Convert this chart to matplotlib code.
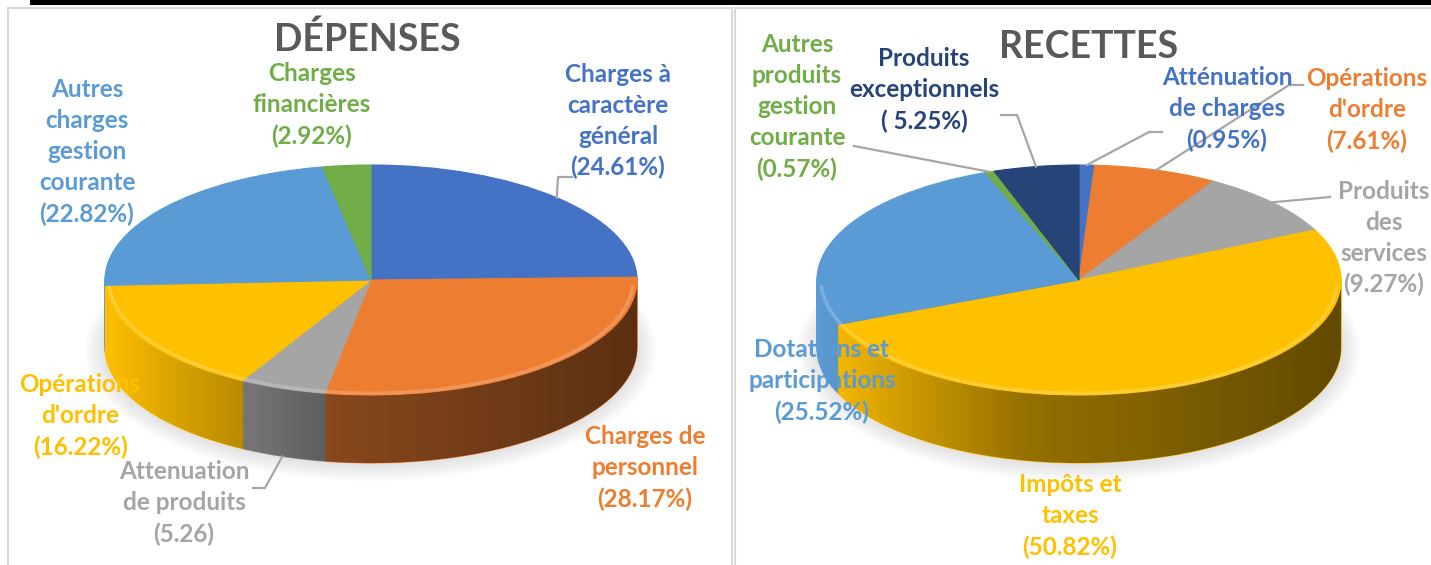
import numpy as np
import matplotlib.pyplot as plt
from matplotlib.patches import Rectangle, Polygon, Ellipse

plt.rcParams['font.family'] = ['Lato', 'DejaVu Sans']

W, H = 1431, 565

# ---- data ----
dep_labels = ["Charges à\ncaractère\ngénéral", "Charges de\npersonnel", "Attenuation\nde produits",
              "Opérations\nd'ordre", "Autres\ncharges\ngestion\ncourante", "Charges\nfinancières"]
dep_values = [24.61, 28.17, 5.26, 16.22, 22.82, 2.92]
dep_pct = ["(24.61%)", "(28.17%)", "(5.26)", "(16.22%)", "(22.82%)", "(2.92%)"]
dep_colors = ["#4472C4", "#ED7D31", "#A5A5A5", "#FFC000", "#5B9BD5", "#70AD47"]

rec_labels = ["Atténuation\nde charges", "Opérations\nd'ordre", "Produits\ndes\nservices", "Impôts et\ntaxes",
              "Dotations et\nparticipations", "Autres\nproduits\ngestion\ncourante", "Produits\nexceptionnels"]
rec_values = [0.95, 7.61, 9.27, 50.82, 25.52, 0.57, 5.25]
rec_pct = ["(0.95%)", "(7.61%)", "(9.27%)", "(50.82%)", "(25.52%)", "(0.57%)", "( 5.25%)"]
rec_colors = ["#4472C4", "#ED7D31", "#A5A5A5", "#FFC000", "#5B9BD5", "#70AD47", "#264478"]

# label layout (pixel centres) and leader lines (elbow points, pixels)
dep_label_pos = [(618, 121), (645, 468), (184, 503), (80, 416), (87, 152), (312, 105)]
rec_label_pos = [(1227, 109), (1367, 110), (1384, 238), (1070, 516), (822, 381), (797, 107), (924, 90)]
dep_leaders = {0: ([(558, 177), (572, 177)], False), 2: ([(265, 488), (253, 488)], True)}
rec_leaders = {0: ([(1149, 132), (1162, 132)], False), 1: ([(1289, 85), (1303, 85)], False),
               2: ([(1330, 197)], False), 5: ([(854, 146)], False), 6: ([(1017, 115), (1001, 115)], False)}

fig = plt.figure(figsize=(W / 100, H / 100), dpi=100)

# frame decorations
fig.patches.append(Rectangle((30 / W, 1 - 5 / H), 1 - 30 / W, 5 / H, transform=fig.transFigure,
                             facecolor="black", edgecolor="none"))
for x0, x1 in [(8, 732), (735, 1440)]:
    fig.patches.append(Rectangle((x0 / W, -0.05), (x1 - x0) / W, 1.05 - 8 / H, transform=fig.transFigure,
                                 fill=False, edgecolor="#D9D9D9", linewidth=1.5))


def draw_pie(x0, x1, cx, rx, values, colors, labels, pcts, label_pos, leaders, title, title_pos):
    cy, ry, depth = 280, 115, 68 / 115
    ax = fig.add_axes([x0 / W, 0, (x1 - x0) / W, (H - 8) / H])
    to_d = lambda px, py: ((px - cx) / rx, (cy - py) / ry)

    # soft shadow
    for i in range(6):
        ax.add_patch(Ellipse((0, -depth - 0.02), 2.02 + i * 0.025, 2.02 + i * 0.05,
                             facecolor="#808080", alpha=0.035, edgecolor="none", zorder=0))

    # side of the cake: stacked pies
    for k in np.linspace(depth, 0, 40, endpoint=False):
        wedges, _ = ax.pie(values, colors=colors, startangle=90, counterclock=False,
                           center=(0, -k), radius=1, wedgeprops=dict(linewidth=0.8))
        for w in wedges:
            w.set_edgecolor(w.get_facecolor())
            w.set_zorder(1)

    # shading of the side
    t = np.linspace(np.pi, 2 * np.pi, 200)
    band = np.vstack([np.column_stack([np.cos(t), np.sin(t)]),
                      np.column_stack([np.cos(t[::-1]), np.sin(t[::-1]) - depth])])
    clip = Polygon(band, closed=True, facecolor="none", edgecolor="none")
    ax.add_patch(clip)
    xs = np.linspace(-1, 1, 300)
    img = np.zeros((1, 300, 4))
    img[..., 3] = np.interp(xs, [-1, -0.75, -0.2, 1], [0.0, 0.15, 0.42, 0.62])
    im = ax.imshow(img, extent=(-1, 1, -1 - depth, 0), aspect="auto", zorder=2)
    im.set_clip_path(clip)

    # top face
    wedges, _ = ax.pie(values, colors=colors, startangle=90, counterclock=False,
                       radius=1, wedgeprops=dict(linewidth=0.8))
    for w in wedges:
        w.set_edgecolor(w.get_facecolor())
        w.set_zorder(3)
    rim = np.linspace(np.pi * 1.02, np.pi * 1.98, 100)
    ax.plot(0.985 * np.cos(rim), 0.985 * np.sin(rim), color="white", alpha=0.2, lw=2.5, zorder=4)

    # labels
    for lab, pct, col, (px, py) in zip(labels, pcts, colors, label_pos):
        x, y = to_d(px, py)
        ax.text(x, y, lab + "\n" + pct, ha="center", va="center", color=col, fontsize=17.5,
                fontweight="bold", linespacing=1.42, zorder=6)

    # leader lines
    total = sum(values)
    cum = np.cumsum([0] + list(values))
    for idx, (pts, on_side) in leaders.items():
        mid = np.deg2rad(90 - (cum[idx] + values[idx] / 2) / total * 360)
        sx, sy = np.cos(mid), np.sin(mid) - (depth if on_side else 0)
        xs_l = [sx] + [to_d(*p)[0] for p in pts]
        ys_l = [sy] + [to_d(*p)[1] for p in pts]
        ax.plot(xs_l, ys_l, color="#A6A6A6", lw=1.6, zorder=5, clip_on=False)

    tx, ty = to_d(*title_pos)
    ax.text(tx, ty, title, ha="center", va="center", color="#595959", fontsize=27, fontweight="bold")

    ax.set_aspect("auto")
    ax.set_xlim((x0 - cx) / rx, (x1 - cx) / rx)
    ax.set_ylim((cy - H) / ry, (cy - 8) / ry)
    ax.axis("off")


draw_pie(8, 732, 371, 266, dep_values, dep_colors, dep_labels, dep_pct, dep_label_pos, dep_leaders,
         "DÉPENSES", (367, 39))
draw_pie(735, 1431, 1079, 262, rec_values, rec_colors, rec_labels, rec_pct, rec_label_pos, rec_leaders,
         "RECETTES", (1089, 47))

fig.savefig("out.png", dpi=100)
